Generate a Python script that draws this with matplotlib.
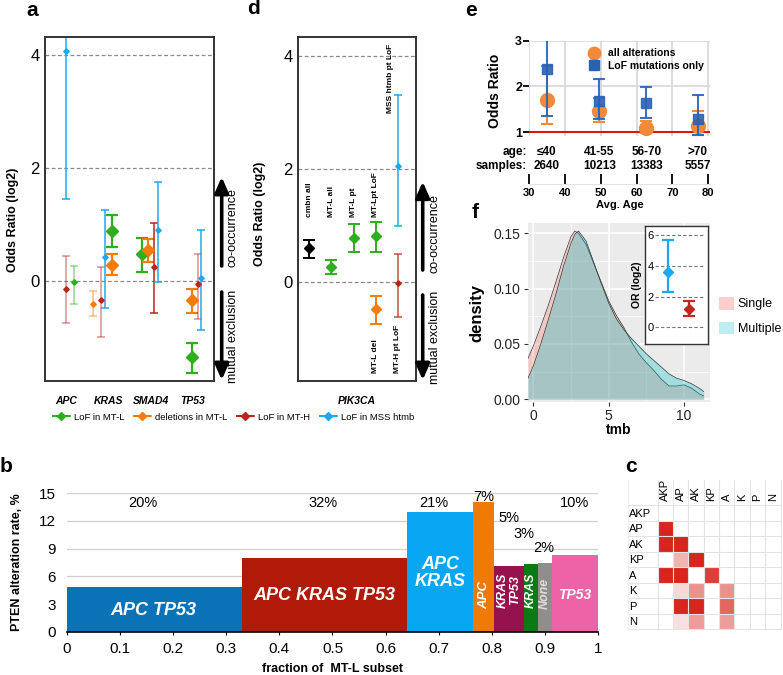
import matplotlib
matplotlib.use("Agg")
import matplotlib.pyplot as plt
import numpy as np
from matplotlib import font_manager
from matplotlib.colors import LinearSegmentedColormap, to_rgba
from matplotlib.lines import Line2D
from matplotlib.patches import Patch
from matplotlib.transforms import blended_transform_factory

plt.rcParams["font.family"] = ["Liberation Sans", "DejaVu Sans"]
_names = {f.name for f in font_manager.fontManager.ttflist}
NARROW = ["Liberation Sans Narrow", "DejaVu Sans"] if "Liberation Sans Narrow" in _names else ["Liberation Sans", "DejaVu Sans"]

W, H = 783, 675

# ---------------- data: panel a ----------------
genes = ["APC", "KRAS", "SMAD4", "TP53"]
a_green = [-0.01, 0.88, 0.47, -1.35]
a_green_lo = [-0.40, 0.61, 0.16, -1.63]
a_green_hi = [0.27, 1.16, 0.76, -1.09]
a_orange = [-0.40, 0.28, 0.55, -0.34]
a_orange_lo = [-0.62, 0.11, 0.33, -0.57]
a_orange_hi = [-0.18, 0.47, 0.75, -0.14]
a_red = [-0.14, -0.34, 0.24, -0.06]
a_red_lo = [-0.74, -0.99, -0.57, -0.67]
a_red_hi = [0.45, 0.24, 1.03, 0.47]
a_blue = [4.08, 0.42, 0.90, 0.06]
a_blue_lo = [1.46, -0.48, -0.02, -0.87]
a_blue_hi = [4.60, 1.26, 1.75, 0.91]
a_green_sig = [0, 1, 1, 1]
a_orange_sig = [0, 1, 1, 1]
a_red_sig = [0, 0, 1, 0]
a_blue_sig = [1, 1, 1, 1]
legend_labels = ["LoF in MT-L", "deletions in MT-L", "LoF in MT-H", "LoF in MSS htmb"]

# ---------------- data: panel d ----------------
d_labels = ["cmbn all", "MT-L all", "MT-L pt", "MT-Lpt LoF", "MT-L del", "MT-H pt LoF", "MSS htmb pt LoF"]
d_vals = [0.59, 0.25, 0.78, 0.81, -0.48, -0.03, 2.05]
d_lo = [0.42, 0.13, 0.52, 0.52, -0.75, -0.63, 0.99]
d_hi = [0.74, 0.38, 1.02, 1.06, -0.25, 0.49, 3.30]

# ---------------- data: panel e ----------------
e_groups = ["\u226440", "41-55", "56-70", ">70"]
e_samples = ["2640", "10213", "13383", "5557"]
e_avg_age = [35.0, 49.6, 62.7, 77.0]
e_all = [1.70, 1.47, 1.10, 1.14]
e_all_lo = [1.18, 1.22, 0.98, 0.94]
e_all_hi = [2.45, 1.74, 1.25, 1.46]
e_lof = [2.39, 1.68, 1.64, 1.30]
e_lof_lo = [1.35, 1.28, 1.32, 0.94]
e_lof_hi = [3.20, 2.17, 1.99, 1.82]

# ---------------- data: panel f ----------------
f_tmb = [-0.35, 0, 0.5, 1, 1.5, 2, 2.5, 2.75, 3, 3.5, 4, 4.5, 5, 5.5, 6, 6.5, 7, 7.5, 8, 8.5, 9, 9.5, 10, 10.5, 11, 11.3]
f_single = [0.037, 0.048, 0.066, 0.085, 0.106, 0.128, 0.147, 0.152, 0.150, 0.140, 0.123, 0.106, 0.089, 0.076,
            0.065, 0.052, 0.041, 0.033, 0.026, 0.018, 0.012, 0.012, 0.013, 0.010, 0.005, 0.003]
f_multiple = [0.019, 0.030, 0.050, 0.072, 0.095, 0.120, 0.141, 0.149, 0.152, 0.143, 0.124, 0.105, 0.087, 0.073,
              0.063, 0.055, 0.048, 0.041, 0.035, 0.029, 0.023, 0.019, 0.017, 0.014, 0.010, 0.007]
f_groups = ["Single", "Multiple"]
inset_vals = [3.61, 1.20]
inset_lo = [2.30, 0.76]
inset_hi = [5.70, 1.73]

# ---------------- data: panel b ----------------
b_names = ["APC TP53", "APC KRAS TP53", "APC\nKRAS", "APC", "KRAS\nTP53", "KRAS", "None", "TP53"]
b_widths = [0.329, 0.311, 0.125, 0.038, 0.057, 0.026, 0.026, 0.088]
b_rates = [4.8, 8.0, 13.0, 14.1, 7.1, 7.3, 7.4, 8.35]
b_pct = ["20%", "32%", "21%", "7%", "5%", "3%", "2%", "10%"]
b_colors = ["#0A72B6", "#B01A08", "#09A6F4", "#F07A04", "#96124F", "#0A7A16", "#8E8E8E", "#EE63A8"]

# ---------------- data: panel c ----------------
c_labels = ["AKP", "AP", "AK", "KP", "A", "K", "P", "N"]
c_matrix = np.array([
    [0, 0, 0, 0, 0, 0, 0, 0],
    [1, 0, 0, 0, 0, 0, 0, 0],
    [1, 1, 0, 0, 0, 0, 0, 0],
    [0, .35, 1, 0, 0, 0, 0, 0],
    [1, 1, 0, .88, 0, 0, 0, 0],
    [0, .18, .5, 0, .5, 0, 0, 0],
    [0, 1, 1, 0, .7, 0, 0, 0],
    [0, .15, .45, 0, .45, 0, 0, 0],
])

GREEN = "#2EAD1E"
ORANGE = "#F57C0A"
RED = "#B8261A"
BLUE = "#1BA9F5"


def rect(x0, y0, x1, y1):
    return [x0 / W, 1 - y1 / H, (x1 - x0) / W, (y1 - y0) / H]


def fpt(x, y):
    return (x / W, 1 - y / H)


fig = plt.figure(figsize=(W / 100, H / 100), dpi=100)


def or_errorbar(ax, x, y, lo, hi, color, big, alpha):
    ecol = to_rgba(color, alpha)
    if big:
        ax.errorbar(x, y, yerr=[[y - lo], [hi - y]], fmt="D", color=color, ecolor=ecol, ms=6,
                    elinewidth=1.6, capsize=4, capthick=1.6, alpha=1 if alpha == 1 else 0.6)
    else:
        ax.errorbar(x, y, yerr=[[y - lo], [hi - y]], fmt="D", color=color, ecolor=ecol, ms=2.8,
                    elinewidth=1.1, capsize=3, capthick=1.1)


def arrows(ax, x, up, down, tx, ty_up, ty_down):
    style = dict(arrowstyle="-|>,head_width=0.42,head_length=0.95", lw=2.6, color="k", shrinkA=0, shrinkB=0)
    ax.annotate("", xy=fpt(x, up[1]), xytext=fpt(x, up[0]), xycoords="figure fraction", arrowprops=style)
    ax.annotate("", xy=fpt(x, down[1]), xytext=fpt(x, down[0]), xycoords="figure fraction", arrowprops=style)
    fig.text(*fpt(tx, ty_up), "co-occurrence", rotation=90, ha="center", va="center", fontsize=9)
    fig.text(*fpt(tx, ty_down), "mutual exclusion", rotation=90, ha="center", va="center", fontsize=9)


def or_axes_style(ax):
    for s in ax.spines.values():
        s.set_linewidth(1.4)
        s.set_color("#333333")
    ax.set_yticks([0, 2, 4])
    ax.tick_params(axis="y", length=0, labelsize=12, pad=4)
    for v in [0, 2, 4]:
        ax.axhline(v, color="#888888", ls=(0, (3, 2)), lw=0.9, zorder=0)


# ================= panel a =================
ax_a = fig.add_axes(rect(45, 37, 214, 381))
ax_a.set_xlim(0.5, 4.5)
ax_a.set_ylim(-1.77, 4.32)
or_axes_style(ax_a)
offsets = {
    "green": [0.19, 0.08, -0.21, -0.01],
    "orange": [0.64, 0.08, -0.06, -0.01],
    "red": [-0.01, -0.18, 0.08, 0.11],
    "blue": [-0.01, -0.09, 0.17, 0.19],
}
series = [
    ("green", GREEN, a_green, a_green_lo, a_green_hi, a_green_sig, True),
    ("orange", ORANGE, a_orange, a_orange_lo, a_orange_hi, a_orange_sig, True),
    ("red", RED, a_red, a_red_lo, a_red_hi, a_red_sig, False),
    ("blue", BLUE, a_blue, a_blue_lo, a_blue_hi, a_blue_sig, False),
]
for key, col, vals, lo, hi, sig, can_big in series:
    for i in range(len(genes)):
        big = can_big and sig[i] == 1
        alpha = 1.0 if sig[i] else 0.5
        or_errorbar(ax_a, i + 1 + offsets[key][i], vals[i], lo[i], hi[i], col, big, alpha)
ax_a.set_xticks(range(1, len(genes) + 1))
ax_a.set_xticklabels(genes, fontstyle="italic", fontweight="bold", fontsize=7.5)
ax_a.tick_params(axis="x", length=0, pad=11)
ax_a.set_ylabel("Odds Ratio (log2)", fontweight="bold", fontsize=9)
ax_a.yaxis.set_label_coords(-0.155, 0.47)
arrows(ax_a, 221.7, (266, 177), (292, 380), 233, 228, 336)

# legend for a / d
handles = [Line2D([0], [0], color=c, ls="--", lw=1.5, marker="D", ms=4) for c in [GREEN, ORANGE, RED, BLUE]]
fig.legend(handles, legend_labels, loc="center left", bbox_to_anchor=fpt(48, 417), ncol=4, frameon=False,
           fontsize=6.8, handlelength=2.0, handletextpad=0.35, columnspacing=0.9, borderaxespad=0)

# ================= panel d =================
ax_d = fig.add_axes(rect(298, 37, 416, 381))
ax_d.set_xlim(0.49, 5.81)
ax_d.set_ylim(-1.76, 4.33)
or_axes_style(ax_d)
d_pos = [1, 2, 3, 4, 4, 5, 5]
d_cols = ["black", GREEN, GREEN, GREEN, ORANGE, RED, BLUE]
for i in range(len(d_vals)):
    if i < 5:
        ax_d.errorbar(d_pos[i], d_vals[i], yerr=[[d_vals[i] - d_lo[i]], [d_hi[i] - d_vals[i]]], fmt="D",
                      color=d_cols[i], ms=5, elinewidth=1.4, capsize=4, capthick=1.4)
    else:
        or_errorbar(ax_d, d_pos[i], d_vals[i], d_lo[i], d_hi[i], d_cols[i], False, 0.8 if i == 5 else 1.0)
for i in range(4):
    ax_d.text(d_pos[i], 1.14, d_labels[i], rotation=90, ha="center", va="bottom", fontsize=6, fontweight="bold")
ax_d.text(4, -1.62, d_labels[4], rotation=90, ha="center", va="bottom", fontsize=6, fontweight="bold")
ax_d.text(4.96, -1.62, d_labels[5], rotation=90, ha="center", va="bottom", fontsize=6, fontweight="bold")
ax_d.text(4.68, 2.98, d_labels[6], rotation=90, ha="center", va="bottom", fontsize=6, fontweight="bold")
ax_d.set_xticks([])
ax_d.set_xlabel("PIK3CA", fontstyle="italic", fontweight="bold", fontsize=7.5, labelpad=11)
ax_d.set_ylabel("Odds Ratio (log2)", fontweight="bold", fontsize=9)
ax_d.yaxis.set_label_coords(-0.27, 0.485)
arrows(ax_d, 422.7, (270, 181.7), (295, 380), 435, 234, 337)

# ================= panel e =================
ax_e = fig.add_axes(rect(529, 40.7, 710, 135.5))
ax_e.set_xlim(30.36, 80.47)
ax_e.set_ylim(0.93, 3.0)
for s in ax_e.spines.values():
    s.set_visible(False)
ax_e.set_xticks([30, 40, 50, 60, 70, 80])
ax_e.tick_params(axis="x", length=0, labelbottom=False)
ax_e.set_yticks([1, 2, 3])
ax_e.set_yticklabels(["1", "2", "3"], fontweight="bold", fontsize=9, family=NARROW)
ax_e.tick_params(axis="y", length=4, width=1.3, pad=1)
ax_e.grid(color="#DADADA", lw=1.3)
ax_e.set_axisbelow(True)
ax_e.axhline(1, color="#E0150B", lw=1.5, zorder=1)
OR_E = "#F28A3A"
BL_E = "#2A62B3"
ax_e.errorbar(e_avg_age, e_all, yerr=[np.subtract(e_all, e_all_lo), np.subtract(e_all_hi, e_all)], fmt="o",
              color=OR_E, ms=10, elinewidth=1.5, capsize=4, capthick=1.5, zorder=3, clip_on=False)
ax_e.errorbar(e_avg_age, e_lof, yerr=[np.subtract(e_lof, e_lof_lo), np.subtract(e_lof_hi, e_lof)], fmt="s",
              color=BL_E, ms=7, elinewidth=1.5, capsize=4, capthick=1.5, zorder=4, alpha=0.9)
ax_e.set_ylabel("Odds Ratio", fontweight="bold", fontsize=10, family=NARROW)
ax_e.yaxis.set_label_coords(-0.15, 0.47)
e_handles = [Line2D([0], [0], ls="none", marker="o", ms=9, color=OR_E),
             Line2D([0], [0], ls="none", marker="s", ms=7, color=BL_E)]
leg = ax_e.legend(e_handles, ["all alterations", "LoF mutations only"], loc="upper right",
                  bbox_to_anchor=(1.02, 1.02), frameon=False, handletextpad=0.4, labelspacing=0.25,
                  prop={"family": NARROW, "weight": "bold", "size": 7.5})
tr = blended_transform_factory(ax_e.transData, ax_e.transAxes)
ax_e.text(-0.013, -0.171, "age:", transform=ax_e.transAxes, ha="right", va="center", fontweight="bold",
          fontsize=8.5, family=NARROW)
ax_e.text(-0.013, -0.319, "samples:", transform=ax_e.transAxes, ha="right", va="center", fontweight="bold",
          fontsize=8.5, family=NARROW)
for x, g, s in zip(e_avg_age, e_groups, e_samples):
    ax_e.text(x, -0.171, g, transform=tr, ha="center", va="center", fontweight="bold", fontsize=8.5, family=NARROW)
    ax_e.text(x, -0.319, s, transform=tr, ha="center", va="center", fontweight="bold", fontsize=8.5, family=NARROW)
sec = ax_e.secondary_xaxis(-0.512)
sec.set_xticks([30, 40, 50, 60, 70, 80], ["30", "40", "50", "60", "70", "80"], fontweight="bold",
               fontsize=8, family=NARROW)
sec.tick_params(direction="in", length=7, width=1.3, pad=3)
sec.spines["bottom"].set_color("#E3E3E3")
sec.set_xlabel("Avg. Age", fontweight="bold", fontsize=8, family=NARROW, labelpad=1)

# ================= panel f =================
ax_f = fig.add_axes(rect(527.7, 223.3, 710, 401.7))
ax_f.set_facecolor("#EBEBEB")
ax_f.set_xlim(-0.37, 11.72)
ax_f.set_ylim(-0.0022, 0.159)
for s in ax_f.spines.values():
    s.set_visible(False)
ax_f.set_xticks([0, 5, 10])
ax_f.set_xticks([2.5, 7.5], minor=True)
ax_f.set_yticks([0, 0.05, 0.10, 0.15])
ax_f.set_yticks([0.025, 0.075, 0.125], minor=True)
ax_f.set_yticklabels(["0.00", "0.05", "0.10", "0.15"])
ax_f.grid(which="major", color="white", lw=1.1)
ax_f.grid(which="minor", color="white", lw=0.5)
ax_f.set_axisbelow(True)
ax_f.tick_params(which="major", length=3, color="#333333", labelsize=10, labelcolor="#222222", pad=2)
ax_f.tick_params(which="minor", length=0)
ax_f.fill_between(f_tmb, f_single, color="#F8766D", alpha=0.3, lw=0, zorder=2)
ax_f.plot(f_tmb, f_single, color="#333333", lw=0.5, zorder=3)
ax_f.fill_between(f_tmb, f_multiple, color="#00BFC4", alpha=0.3, lw=0, zorder=4)
ax_f.plot(f_tmb, f_multiple, color="#333333", lw=0.5, zorder=5)
ax_f.set_ylabel("density", fontweight="bold", fontsize=12, labelpad=2)
ax_f.set_xlabel("tmb", fontweight="bold", fontsize=10, labelpad=0)
ax_f.yaxis.set_label_coords(-0.235, 0.5)

f_handles = [Patch(facecolor=to_rgba("#F8766D", 0.35), edgecolor="none"),
             Patch(facecolor=to_rgba("#00BFC4", 0.25), edgecolor="none")]
fig.legend(f_handles, f_groups, loc="center left", bbox_to_anchor=fpt(714, 316), frameon=False, fontsize=9,
           handlelength=1.2, handleheight=1.2, handletextpad=0.3, labelspacing=0.9, borderaxespad=0)

# inset
ax_i = fig.add_axes(rect(645, 226, 708.3, 344.3))
ax_i.set_xlim(-0.05, 2.88)
ax_i.set_ylim(-1.11, 6.59)
for s in ax_i.spines.values():
    s.set_linewidth(1.0)
    s.set_color("#333333")
for v in [0, 2, 4, 6]:
    ax_i.axhline(v, xmin=0.16, xmax=0.95, color="#777777", ls=(0, (3, 2)), lw=0.8, zorder=0)
ax_i.set_xticks([])
ax_i.set_yticks([0, 2, 4, 6])
ax_i.tick_params(axis="y", length=0, pad=-6.5, labelsize=8)
for t in ax_i.get_yticklabels():
    t.set_horizontalalignment("right")
for i, c in enumerate([BLUE, "#C0261C"]):
    ax_i.errorbar(i + 1, inset_vals[i], yerr=[[inset_vals[i] - inset_lo[i]], [inset_hi[i] - inset_vals[i]]],
                  fmt="D", color=c, ms=5.5, elinewidth=1.6, capsize=4, capthick=1.6)
ax_i.set_ylabel("OR (log2)", fontweight="bold", fontsize=7.5, labelpad=2)

# ================= panel b =================
ax_b = fig.add_axes(rect(66.7, 493.3, 598.3, 631.7))
b_lefts = np.concatenate([[0], np.cumsum(b_widths)[:-1]])
ax_b.bar(b_lefts, b_rates, width=b_widths, align="edge", color=b_colors, lw=0, zorder=2)
ax_b.set_xlim(0, 1)
ax_b.set_ylim(0, 15)
for k in ["left", "right", "top"]:
    ax_b.spines[k].set_visible(False)
ax_b.spines["bottom"].set_linewidth(1.2)
ax_b.set_yticks([0, 3, 6, 9, 12, 15])
ax_b.set_xticks(np.arange(0, 1.01, 0.1))
ax_b.set_xticklabels(["0", "0.1", "0.2", "0.3", "0.4", "0.5", "0.6", "0.7", "0.8", "0.9", "1"])
ax_b.tick_params(axis="y", length=0, labelsize=11, pad=8)
ax_b.tick_params(axis="x", length=2.5, labelsize=11, pad=5)
ax_b.grid(axis="y", color="#CFCFCF", lw=0.9, zorder=0)
ax_b.set_axisbelow(True)
ax_b.set_ylabel("PTEN alteration rate, %", fontweight="bold", fontsize=9)
ax_b.yaxis.set_label_coords(-0.083, 0.5)
ax_b.set_xlabel("fraction of  MT-L subset", fontweight="bold", fontsize=9, labelpad=5)
pct_xy = [(0.1435, 13.9), (0.482, 13.9), (0.691, 13.9), (0.784, 14.6), (0.832, 12.3), (0.861, 10.6),
          (0.897, 9.1), (0.955, 13.9)]
for (x, y), p in zip(pct_xy, b_pct):
    ax_b.text(x, y, p, ha="center", va="center", fontsize=10.5, zorder=3)
name_xy = [(0.163, 2.35, 0, 13), (0.484, 3.97, 0, 13), (0.702, 6.4, 0, 13), (0.785, 4.0, 90, 9.5),
           (0.832, 4.5, 90, 9), (0.873, 4.5, 90, 9), (0.9, 4.2, 90, 9), (0.955, 4.0, 0, 10)]
for (x, y, rot, fs), n in zip(name_xy, b_names):
    ax_b.text(x, y, n, ha="center", va="center", rotation=rot, fontsize=fs, fontstyle="italic",
              fontweight="bold", color="#DDDDDD" if n == "None" else "white", linespacing=1.0, zorder=3)

# ================= panel c =================
ax_c = fig.add_axes(rect(657.7, 505, 780.5, 629))
cmap = LinearSegmentedColormap.from_list("wr", ["#FFFFFF", "#D8251D"])
ax_c.pcolormesh(np.arange(9), np.arange(9), c_matrix, cmap=cmap, vmin=0, vmax=1, zorder=1)
ax_c.set_xlim(0, 8)
ax_c.set_ylim(8, 0)
for s in ax_c.spines.values():
    s.set_visible(False)
for k in range(9):
    ax_c.plot([-1.94, 8], [k, k], color="#E4E4E4", lw=0.8, clip_on=False, zorder=2)
    ax_c.plot([k, k], [-1.6, 8], color="#E4E4E4", lw=0.8, clip_on=False, zorder=2)
ax_c.plot([-1.94, -1.94], [-1.6, 8], color="#EEEEEE", lw=0.8, clip_on=False, zorder=2)
ax_c.set_xticks(np.arange(8) + 0.5)
ax_c.set_yticks(np.arange(8) + 0.5)
ax_c.xaxis.tick_top()
ax_c.set_xticklabels(c_labels, rotation=90, fontsize=8)
ax_c.set_yticklabels(c_labels, fontsize=8, ha="left")
ax_c.tick_params(axis="x", length=0, pad=3)
ax_c.tick_params(axis="y", length=0, pad=20.4)

# panel letters
for letter, x, y in [("a", 32, 10), ("d", 254, 9), ("e", 471, 10), ("f", 475, 212), ("b", 6, 466),
                     ("c", 631, 466)]:
    fig.text(*fpt(x, y), letter, fontsize=15, fontweight="bold", ha="center", va="center")

fig.savefig("out.png", dpi=100)
